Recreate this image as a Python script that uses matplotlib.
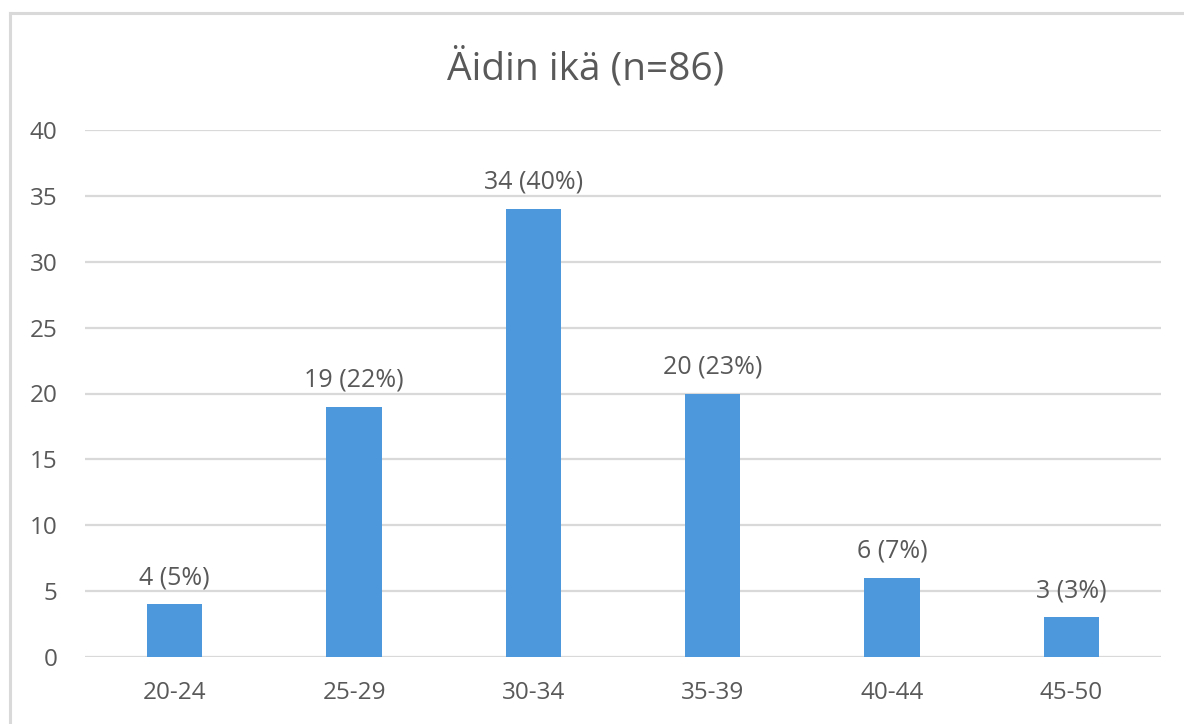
import matplotlib
matplotlib.use("Agg")
import matplotlib.pyplot as plt
from matplotlib.lines import Line2D

# Mother's age groups and counts
age_groups = ["20-24", "25-29", "30-34", "35-39", "40-44", "45-50"]
counts = [4, 19, 34, 20, 6, 3]
percents = [5, 22, 40, 23, 7, 3]
total_n = 86

text_color = "#595959"
grid_color = "#D9D9D9"
bar_color = "#4D97DC"

plt.rcParams["font.family"] = ["Open Sans", "DejaVu Sans"]

W, H = 1184, 724
fig = plt.figure(figsize=(W / 100, H / 100), dpi=100)
fig.patch.set_facecolor("white")

# Outer chart-area frame (top and left edges)
fig.add_artist(Line2D([9.5 / W, 9.5 / W], [0, 1 - 13 / H], transform=fig.transFigure,
                      color=grid_color, lw=2.2))
fig.add_artist(Line2D([9.5 / W, 1], [1 - 13 / H, 1 - 13 / H], transform=fig.transFigure,
                      color=grid_color, lw=2.2))

ax = fig.add_axes([85 / W, 1 - 657 / H, (1161 - 85) / W, (657 - 130) / H])
x = range(len(age_groups))
bars = ax.bar(x, counts, width=0.31, color=bar_color, zorder=3)

ax.set_xlim(-0.5, len(age_groups) - 0.5)
ax.set_ylim(0, 40)
ax.set_yticks(range(0, 41, 5))
ax.set_xticks(list(x))
ax.set_xticklabels(age_groups)
ax.yaxis.grid(True, color=grid_color, lw=1.6, zorder=0)
ax.set_axisbelow(True)
for s in ax.spines.values():
    s.set_visible(False)
ax.tick_params(axis="both", length=0, labelsize=17.5, colors=text_color)
ax.tick_params(axis="y", pad=20)
ax.tick_params(axis="x", pad=17)

for i, (c, p) in enumerate(zip(counts, percents)):
    ax.annotate(f"{c} ({p}%)", xy=(i, c), xytext=(0, 14.5), textcoords="offset points",
                ha="center", va="baseline", fontsize=18, color=text_color)

fig.text(586 / W, 1 - 68 / H, f"Äidin ikä (n={total_n})", ha="center", va="center",
         fontsize=28, color=text_color)

fig.savefig("out.png", dpi=100, facecolor="white")
